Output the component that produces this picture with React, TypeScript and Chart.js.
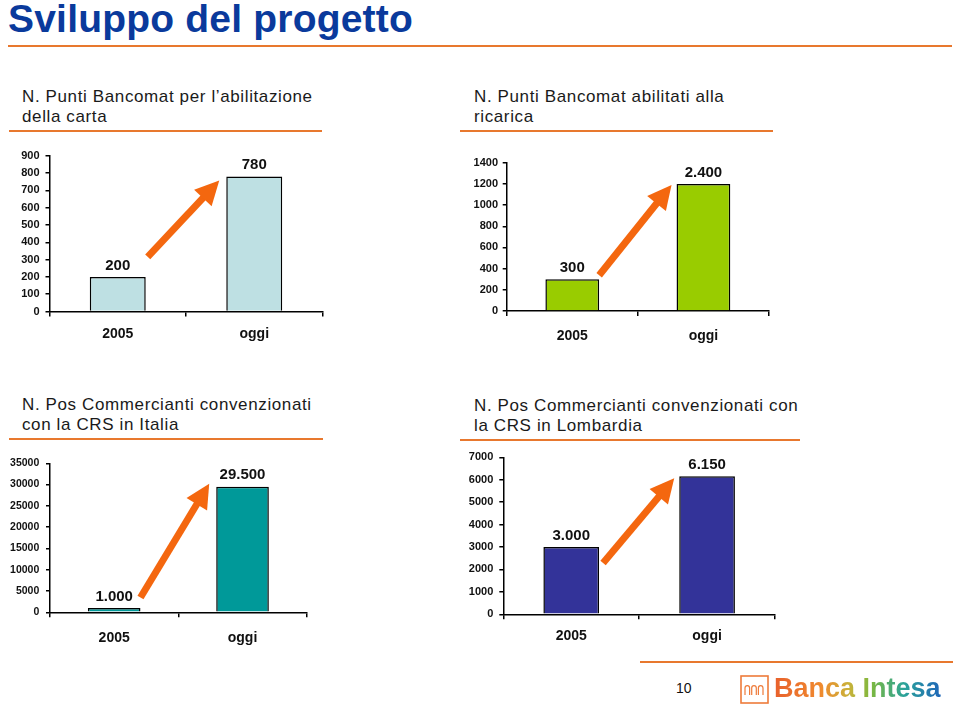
import React, { useEffect, useRef } from "react";
import { Chart, registerables } from "chart.js";

Chart.register(...registerables);

const FONT = "Arial, 'Liberation Sans', Helvetica, sans-serif";
Chart.defaults.font.family = FONT;

// ---- data ----
const categories = ["2005", "oggi"];
const bancomatAbilitazione = [200, 780];
const bancomatAbilitazioneLabels = ["200", "780"];
const bancomatRicarica = [300, 1200];
const bancomatRicaricaLabels = ["300", "2.400"];
const posItalia = [1000, 29500];
const posItaliaLabels = ["1.000", "29.500"];
const posLombardia = [3000, 6150];
const posLombardiaLabels = ["3.000", "6.150"];

const ARROW = "#F4670F";

function makeLabelPlugin(labels: string[], size: number, offset: number) {
  return {
    id: "valueLabels",
    afterDatasetsDraw(chart: any) {
      const meta = chart.getDatasetMeta(0);
      const ctx = chart.ctx;
      ctx.save();
      ctx.font = `bold ${size}px ${FONT}`;
      ctx.fillStyle = "#111";
      ctx.textAlign = "center";
      ctx.textBaseline = "middle";
      meta.data.forEach((bar: any, i: number) => {
        ctx.fillText(labels[i], bar.x, bar.y - offset);
      });
      ctx.restore();
    },
  };
}

function makeArrowPlugin(tail: number[], tip: number[]) {
  return {
    id: "growthArrow",
    afterDatasetsDraw(chart: any) {
      const meta = chart.getDatasetMeta(0);
      const b1 = meta.data[0];
      const b2 = meta.data[1];
      const x1 = b1.x + b1.width / 2 + tail[0];
      const y1 = b1.y + tail[1];
      const x2 = b2.x - b2.width / 2 + tip[0];
      const y2 = b2.y + tip[1];
      const dx = x2 - x1;
      const dy = y2 - y1;
      const len = Math.hypot(dx, dy);
      const ux = dx / len;
      const uy = dy / len;
      const headLen = 24;
      const headHalf = 12;
      const bx = x2 - ux * headLen;
      const by = y2 - uy * headLen;
      const ctx = chart.ctx;
      ctx.save();
      ctx.strokeStyle = ARROW;
      ctx.fillStyle = ARROW;
      ctx.lineWidth = 7;
      ctx.lineCap = "butt";
      ctx.beginPath();
      ctx.moveTo(x1, y1);
      ctx.lineTo(bx + ux * 2, by + uy * 2);
      ctx.stroke();
      ctx.beginPath();
      ctx.moveTo(x2, y2);
      ctx.lineTo(bx - uy * headHalf, by + ux * headHalf);
      ctx.lineTo(bx + uy * headHalf, by - ux * headHalf);
      ctx.closePath();
      ctx.fill();
      ctx.restore();
    },
  };
}

type PanelProps = {
  left: number;
  top: number;
  width: number;
  height: number;
  values: number[];
  labels: string[];
  max: number;
  step: number;
  color: string;
  yWidth: number;
  yPad: number;
  yFont: number;
  padTop: number;
  padRight: number;
  xHeight: number;
  xPad: number;
  tail: number[];
  tip: number[];
};

function BarPanel(p: PanelProps) {
  const ref = useRef<HTMLCanvasElement>(null);
  useEffect(() => {
    if (!ref.current) return;
    const chart = new Chart(ref.current, {
      type: "bar",
      data: {
        labels: categories,
        datasets: [
          {
            data: p.values,
            backgroundColor: p.color,
            borderColor: "#000",
            borderWidth: 1.5,
            barPercentage: 0.41,
            categoryPercentage: 1,
          },
        ],
      },
      options: {
        animation: false,
        responsive: false,
        maintainAspectRatio: false,
        layout: { padding: { top: p.padTop, right: p.padRight, left: 0, bottom: 0 } },
        plugins: { legend: { display: false }, tooltip: { enabled: false } },
        scales: {
          x: {
            grid: {
              offset: true,
              drawOnChartArea: false,
              tickLength: 5,
              color: "#000",
              lineWidth: 1.5,
            },
            border: { color: "#000", width: 1.5 },
            ticks: {
              font: { size: 14, weight: "bold", family: FONT },
              color: "#111",
              padding: p.xPad,
              maxRotation: 0,
            },
            afterFit: (s: any) => {
              s.height = p.xHeight;
            },
          },
          y: {
            min: 0,
            max: p.max,
            ticks: {
              stepSize: p.step,
              font: { size: p.yFont, weight: "bold", family: FONT },
              color: "#111",
              padding: p.yPad,
              callback: (v: any) => String(v),
            },
            grid: {
              drawOnChartArea: false,
              tickLength: 4,
              color: "#000",
              lineWidth: 1.5,
            },
            border: { color: "#000", width: 1.5 },
            afterFit: (s: any) => {
              s.width = p.yWidth;
            },
          },
        },
      } as any,
      plugins: [makeLabelPlugin(p.labels, 15, 11.5), makeArrowPlugin(p.tail, p.tip)],
    });
    return () => chart.destroy();
  }, []);
  return (
    <canvas
      ref={ref}
      width={p.width}
      height={p.height}
      style={{ position: "absolute", left: p.left, top: p.top, width: p.width, height: p.height }}
    />
  );
}

const subStyle: React.CSSProperties = {
  position: "absolute",
  fontFamily: FONT,
  fontSize: 17,
  lineHeight: "20px",
  letterSpacing: "0.62px",
  color: "#1a1a1a",
  whiteSpace: "nowrap",
};

function Rule({ x1, x2, y }: { x1: number; x2: number; y: number }) {
  return (
    <div
      style={{
        position: "absolute",
        left: x1,
        top: y - 1,
        width: x2 - x1,
        height: 2,
        background: "#E8782E",
      }}
    />
  );
}

export default function App() {
  return (
    <div
      style={{
        position: "absolute",
        left: 0,
        top: 0,
        width: 960,
        height: 708,
        background: "#fff",
        overflow: "hidden",
      }}
    >
      <div
        style={{
          position: "absolute",
          left: 8,
          top: -1,
          fontFamily: FONT,
          fontWeight: "bold",
          fontSize: 39,
          lineHeight: "39px",
          letterSpacing: "0.2px",
          color: "#0A3A9C",
          whiteSpace: "nowrap",
        }}
      >
        Sviluppo del progetto
      </div>
      <Rule x1={8} x2={952} y={46} />

      <div style={{ ...subStyle, left: 22, top: 87 }}>
        N. Punti Bancomat per l’abilitazione
        <br />
        della carta
      </div>
      <Rule x1={9} x2={322} y={131} />

      <div style={{ ...subStyle, left: 474, top: 87 }}>
        N. Punti Bancomat abilitati alla
        <br />
        ricarica
      </div>
      <Rule x1={460} x2={773} y={131} />

      <div style={{ ...subStyle, left: 22, top: 395 }}>
        N. Pos Commercianti convenzionati
        <br />
        con la CRS in Italia
      </div>
      <Rule x1={9} x2={323} y={439} />

      <div style={{ ...subStyle, left: 474, top: 396 }}>
        N. Pos Commercianti convenzionati con
        <br />
        la CRS in Lombardia
      </div>
      <Rule x1={460} x2={800} y={440} />

      <BarPanel
        left={0}
        top={140}
        width={340}
        height={210}
        values={bancomatAbilitazione}
        labels={bancomatAbilitazioneLabels}
        max={900}
        step={100}
        color="#BEE0E3"
        yWidth={49.5}
        yPad={6}
        yFont={11}
        padTop={15.7}
        padRight={17.5}
        xHeight={38.5}
        xPad={9.5}
        tail={[2, -20]}
        tip={[-7, 4]}
      />
      <BarPanel
        left={440}
        top={140}
        width={340}
        height={210}
        values={bancomatRicarica}
        labels={bancomatRicaricaLabels}
        max={1400}
        step={200}
        color="#99CC00"
        yWidth={66.7}
        yPad={4.7}
        yFont={11}
        padTop={22.7}
        padRight={11}
        xHeight={39}
        xPad={12}
        tail={[0, -4]}
        tip={[-5, 1]}
      />
      <BarPanel
        left={0}
        top={440}
        width={330}
        height={215}
        values={posItalia}
        labels={posItaliaLabels}
        max={35000}
        step={5000}
        color="#009999"
        yWidth={50}
        yPad={6.7}
        yFont={10.5}
        padTop={23.3}
        padRight={23.3}
        xHeight={42.7}
        xPad={12.7}
        tail={[0, -10.5]}
        tip={[-7, -3]}
      />
      <BarPanel
        left={450}
        top={440}
        width={340}
        height={215}
        values={posLombardia}
        labels={posLombardiaLabels}
        max={7000}
        step={1000}
        color="#333399"
        yWidth={53.3}
        yPad={6}
        yFont={11}
        padTop={17.3}
        padRight={15}
        xHeight={40.7}
        xPad={8.7}
        tail={[4, 16]}
        tip={[-5, 2]}
      />

      <Rule x1={640} x2={953} y={662} />
      <div
        style={{
          position: "absolute",
          left: 676,
          top: 680,
          fontFamily: FONT,
          fontSize: 14,
          lineHeight: "16px",
          color: "#111",
        }}
      >
        10
      </div>
      <svg
        width={29}
        height={29}
        viewBox="0 0 29 29"
        style={{ position: "absolute", left: 740, top: 675 }}
      >
        <rect x={1} y={1} width={27} height={27} fill="none" stroke="#EE7B3A" strokeWidth={1.6} />
        <path
          d="M5 20 V13 a2.3 2.3 0 0 1 4.6 0 V20 M11.7 20 V13 a2.3 2.3 0 0 1 4.6 0 V20 M18.4 20 V13 a2.3 2.3 0 0 1 4.6 0 V20"
          fill="none"
          stroke="#EE7B3A"
          strokeWidth={1.2}
        />
      </svg>
      <div
        style={{
          position: "absolute",
          left: 774,
          top: 675,
          fontFamily: FONT,
          fontWeight: "bold",
          fontSize: 27,
          lineHeight: "27px",
          whiteSpace: "nowrap",
          background:
            "linear-gradient(90deg, #E8602C 0%, #F08A2E 28%, #C9B23A 45%, #7DB83E 58%, #2BA39A 78%, #1F66B8 100%)",
          WebkitBackgroundClip: "text",
          backgroundClip: "text",
          color: "transparent",
        }}
      >
        Banca Intesa
      </div>
    </div>
  );
}
